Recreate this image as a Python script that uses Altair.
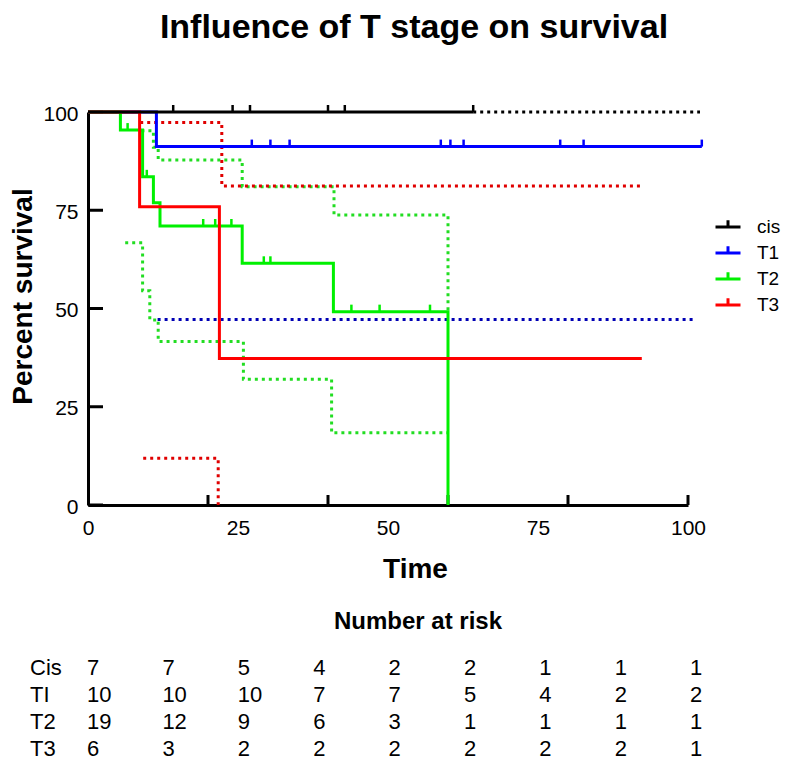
import altair as alt
import pandas as pd

GROUPS = ["cis", "T1", "T2", "T3"]
LINE_COLORS = ["#000000", "#0000ff", "#00f000", "#ff0000"]
DOT_COLORS = ["#000000", "#0000b4", "#22dd22", "#e00000"]
FONT = "Liberation Sans"

# Kaplan-Meier curves: time (months), percent survival
CIS_T = [0, 64.2]
CIS_S = [100, 100]
T1_T = [0, 11.4, 102.3]
T1_S = [100, 91.2, 91.2]
T2_T = [0, 5.4, 9.1, 10.9, 12.0, 25.7, 40.9, 60.0]
T2_S = [100, 95.4, 83.5, 76.9, 71.0, 61.5, 49.2, 0]
T3_T = [0, 8.6, 21.9, 92.3]
T3_S = [100, 75.9, 37.3, 37.3]

# censored observations
CIS_CT = [14.2, 24.1, 27.0, 40.0, 42.8, 64.2]
CIS_CS = [100, 100, 100, 100, 100, 100]
T1_CT = [27.3, 30.4, 33.6, 58.8, 60.4, 62.6, 78.7, 82.6, 102.3]
T1_CS = [91.2, 91.2, 91.2, 91.2, 91.2, 91.2, 91.2, 91.2, 91.2]
T2_CT = [6.6, 9.8, 19.2, 21.2, 23.9, 29.3, 30.4, 43.9, 48.6, 57.0]
T2_CS = [95.4, 83.5, 71.0, 71.0, 71.0, 61.5, 61.5, 49.2, 49.2, 49.2]

# 95% confidence bands (dotted)
CIS_HI_T = [64.2, 102.0]
CIS_HI_S = [100, 100]
T1_LO_T = [11.6, 100.9]
T1_LO_S = [47.2, 47.2]
T2_HI_T = [8.9, 10.9, 11.7, 25.7, 41.0, 60.0]
T2_HI_S = [95.2, 91.0, 87.8, 81.0, 73.8, 49.2]
T2_LO_T = [6.2, 9.1, 10.3, 11.7, 25.9, 40.6, 60.0]
T2_LO_S = [66.7, 54.5, 47.1, 41.6, 32.0, 18.4, 18.4]
T3_HI_T = [8.7, 22.3, 92.0]
T3_HI_S = [97.3, 81.2, 81.2]
T3_LO_T = [9.2, 21.7]
T3_LO_S = [11.9, 0]

# axis labels / inward tick marks
X_LABELS = [0, 25, 50, 75, 100]
Y_LABELS = [0, 25, 50, 75, 100]
X_TICKS = [20, 40, 60, 80, 100]
Y_TICKS = [0, 25, 50, 75, 100]

# number at risk table
ROW_LABELS = ["Cis", "TI", "T2", "T3"]
CIS_RISK = [7, 7, 5, 4, 2, 2, 1, 1, 1]
T1_RISK = [10, 10, 10, 7, 7, 5, 4, 2, 2]
T2_RISK = [19, 12, 9, 6, 3, 1, 1, 1, 1]
T3_RISK = [6, 3, 2, 2, 2, 2, 2, 2, 1]


def rows(group, series, ts, ss):
    return [{"group": group, "series": series, "t": t, "s": s} for t, s in zip(ts, ss)]


solid_df = pd.DataFrame(
    rows("T1", "T1", T1_T, T1_S)
    + rows("T2", "T2", T2_T, T2_S)
    + rows("T3", "T3", T3_T, T3_S)
)
cis_df = pd.DataFrame(rows("cis", "cis", CIS_T, CIS_S))
censor_df = pd.DataFrame(
    rows("cis", "cis", CIS_CT, CIS_CS)
    + rows("T1", "T1", T1_CT, T1_CS)
    + rows("T2", "T2", T2_CT, T2_CS)
)
ci_df = pd.DataFrame(
    rows("cis", "cis hi", CIS_HI_T, CIS_HI_S)
    + rows("T1", "T1 lo", T1_LO_T, T1_LO_S)
    + rows("T2", "T2 hi", T2_HI_T, T2_HI_S)
    + rows("T2", "T2 lo", T2_LO_T, T2_LO_S)
    + rows("T3", "T3 hi", T3_HI_T, T3_HI_S)
    + rows("T3", "T3 lo", T3_LO_T, T3_LO_S)
)
xtick_df = pd.DataFrame({"t": X_TICKS, "s": [0] * len(X_TICKS)})
ytick_df = pd.DataFrame({"t": [0] * len(Y_TICKS), "s": Y_TICKS})

risk_rows = []
for r, vals in enumerate([CIS_RISK, T1_RISK, T2_RISK, T3_RISK]):
    for c, v in enumerate(vals):
        risk_rows.append({"row": r, "col": c + 1, "n": str(v)})
risk_df = pd.DataFrame(risk_rows)
label_df = pd.DataFrame({"row": list(range(4)), "label": ROW_LABELS})
heading_df = pd.DataFrame({"txt": ["Number at risk"]})

x_enc = alt.X(
    "t:Q",
    scale=alt.Scale(domain=[0, 100], nice=False, zero=False),
    axis=alt.Axis(
        values=X_LABELS, title="Time", ticks=False, grid=False,
        domainColor="black", domainWidth=3,
        labelFont=FONT, labelFontSize=21, labelColor="black", labelPadding=12,
        labelFlush=False, labelOverlap=False,
        titleFont=FONT, titleFontSize=28, titleFontWeight="bold", titleColor="black",
        titleX=327, titleY=72, titleBaseline="alphabetic", titleAlign="center",
    ),
)
y_enc = alt.Y(
    "s:Q",
    scale=alt.Scale(domain=[0, 100], nice=False),
    axis=alt.Axis(
        values=Y_LABELS, title="Percent survival", ticks=False, grid=False,
        domainColor="black", domainWidth=3,
        labelFont=FONT, labelFontSize=21, labelColor="black", labelPadding=10,
        labelFlush=False, labelOverlap=False, labelOffset=2,
        titleFont=FONT, titleFontSize=28, titleFontWeight="bold", titleColor="black",
        titleAngle=270, titleX=-57, titleY=184, titleBaseline="alphabetic", titleAlign="center",
    ),
)

xticks = alt.Chart(xtick_df).mark_point(
    shape="M0,0V-1", size=400, strokeWidth=3, filled=False, opacity=1, color="black"
).encode(x=x_enc, y=y_enc)
yticks = alt.Chart(ytick_df).mark_point(
    shape="M0,0H1", size=900, strokeWidth=3, filled=False, opacity=1, color="black"
).encode(x=x_enc, y=y_enc)

dotted = alt.Chart(ci_df).mark_line(
    interpolate="step-after", strokeDash=[3, 4], strokeWidth=3, strokeCap="butt"
).encode(
    x=x_enc, y=y_enc,
    color=alt.Color("group:N", scale=alt.Scale(domain=GROUPS, range=DOT_COLORS), legend=None),
    detail="series:N",
)

solid = alt.Chart(solid_df).mark_line(interpolate="step-after", strokeWidth=3).encode(
    x=x_enc, y=y_enc,
    color=alt.Color(
        "group:N",
        scale=alt.Scale(domain=GROUPS, range=LINE_COLORS),
        sort=GROUPS,
        legend=alt.Legend(
            title=None, orient="none", legendX=626, legendY=101,
            symbolType="M-1,0H1M0,0V-0.55", symbolSize=625, symbolStrokeWidth=3,
            symbolFillColor="transparent",
            labelFont=FONT, labelFontSize=19, labelColor="black", labelOffset=15,
            rowPadding=2,
        ),
    ),
    detail="series:N",
)

cis_line = alt.Chart(cis_df).mark_line(
    interpolate="step-after", strokeWidth=3, color="black"
).encode(x=x_enc, y=y_enc)

censors = alt.Chart(censor_df).mark_point(
    shape="M0,0V-1", size=196, strokeWidth=2.5, filled=False, opacity=1
).encode(
    x=x_enc, y=y_enc,
    color=alt.Color("group:N", scale=alt.Scale(domain=GROUPS, range=LINE_COLORS), legend=None),
)

plot = alt.layer(xticks, yticks, dotted, solid, cis_line, censors).resolve_scale(color="independent")

col_scale = alt.Scale(domain=[1, 9], range=[-1, 602])
row_scale = alt.Scale(domain=[0, 3], range=[563, 644])

risk_text = alt.Chart(risk_df).mark_text(
    align="left", baseline="alphabetic", font=FONT, fontSize=22, color="black"
).encode(
    x=alt.X("col:Q", scale=col_scale, axis=None),
    y=alt.Y("row:Q", scale=row_scale, axis=None),
    text="n:N",
)
row_text = alt.Chart(label_df).mark_text(
    align="left", baseline="alphabetic", font=FONT, fontSize=22, color="black"
).encode(
    x=alt.value(-58),
    y=alt.Y("row:Q", scale=row_scale, axis=None),
    text="label:N",
)
heading = alt.Chart(heading_df).mark_text(
    align="center", baseline="alphabetic", font=FONT, fontSize=24, fontWeight="bold", color="black"
).encode(x=alt.value(330), y=alt.value(517), text="txt:N")

table = alt.layer(risk_text, row_text, heading)

chart = alt.layer(plot, table).resolve_scale(x="independent", y="independent").properties(
    width=600,
    height=393,
    autosize=alt.AutoSizeParams(type="none"),
    padding={"left": 80, "top": 104, "right": 100, "bottom": 255},
    title=alt.TitleParams(
        "Influence of T stage on survival", font=FONT, fontSize=34, fontWeight="bold",
        color="black", anchor="middle", frame="group", dx=26, offset=55,
    ),
).configure_view(stroke=None)

chart.save("out.html", embed_options={"renderer": "svg", "actions": False})
